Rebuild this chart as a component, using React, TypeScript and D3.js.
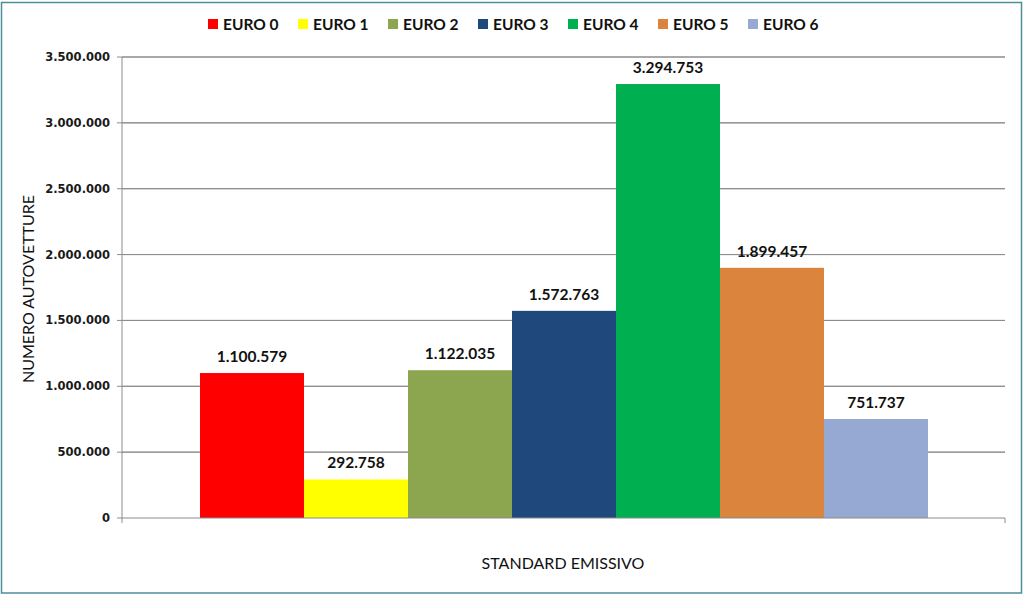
import React from "react";
import * as d3 from "d3";

const categories = ["EURO 0", "EURO 1", "EURO 2", "EURO 3", "EURO 4", "EURO 5", "EURO 6"];
const values = [1100579, 292758, 1122035, 1572763, 3294753, 1899457, 751737];
const colors = ["#FF0000", "#FFFF00", "#8BA64F", "#1F497D", "#00B050", "#DB843D", "#95A9D3"];
const yTicks = [0, 500000, 1000000, 1500000, 2000000, 2500000, 3000000, 3500000];

const W = 1024;
const H = 595;
const plot = { left: 122, right: 1005, top: 57, bottom: 518 };

const fmt = (v: number) => d3.format(",")(v).replace(/,/g, ".");

export default function App() {
  const y = d3.scaleLinear().domain([0, 3500000]).range([plot.bottom, plot.top]);
  const x = d3.scaleBand<string>().domain(categories).range([200, 928]).padding(0);
  const legendX = d3.scaleBand<string>().domain(categories).range([208, 838]);

  return (
    <svg width={W} height={H} style={{ position: "absolute", left: 0, top: 0, background: "#fff" }}>
      <rect x={1.5} y={2.5} width={1020} height={590.5} fill="#ffffff" stroke="#4E8E9C" strokeWidth={1.5} />
      {/* gridlines */}
      {yTicks.map((t) => (
        <g key={t}>
          <line x1={plot.left - 5} x2={t === 0 ? plot.left : plot.right} y1={y(t)} y2={y(t)} stroke="#8c8c8c" strokeWidth={1} />
          {t !== 0 && <line x1={plot.left} x2={plot.right} y1={y(t)} y2={y(t)} stroke="#8c8c8c" strokeWidth={1} />}
          <text x={110} y={y(t)} dy="0.35em" textAnchor="end" fontFamily="DejaVu Sans" fontWeight="bold" fontSize={11.5} fill="#1a1a1a">
            {fmt(t)}
          </text>
        </g>
      ))}
      {/* bars */}
      {categories.map((c, i) => (
        <rect key={c} x={x(c)} y={y(values[i])} width={x.bandwidth()} height={plot.bottom - y(values[i])} fill={colors[i]} />
      ))}
      {/* axes */}
      <line x1={plot.left} x2={plot.left} y1={plot.top} y2={plot.bottom + 5} stroke="#8c8c8c" />
      <line x1={plot.left} x2={plot.right} y1={plot.bottom} y2={plot.bottom} stroke="#8c8c8c" />
      <line x1={plot.right} x2={plot.right} y1={plot.bottom} y2={plot.bottom + 5} stroke="#8c8c8c" />
      {/* data labels */}
      {categories.map((c, i) => (
        <text key={c} x={(x(c) as number) + x.bandwidth() / 2} y={y(values[i]) - 11} textAnchor="middle" fontFamily="Lato" fontWeight="bold" fontSize={15.5} fill="#111">
          {fmt(values[i])}
        </text>
      ))}
      {/* legend */}
      {categories.map((c, i) => (
        <g key={c} transform={`translate(${legendX(c)},19)`}>
          <rect x={0} y={0} width={10} height={10} fill={colors[i]} />
          <text x={15} y={10.5} fontFamily="Lato" fontWeight="bold" fontSize={15.5} fill="#111">
            {c}
          </text>
        </g>
      ))}
      {/* axis titles */}
      <text x={563} y={569} textAnchor="middle" fontFamily="Lato" fontSize={16} fill="#111">
        STANDARD EMISSIVO
      </text>
      <text transform="translate(34,289) rotate(-90)" textAnchor="middle" fontFamily="Lato" fontSize={16} fill="#111">
        NUMERO AUTOVETTURE
      </text>
    </svg>
  );
}
